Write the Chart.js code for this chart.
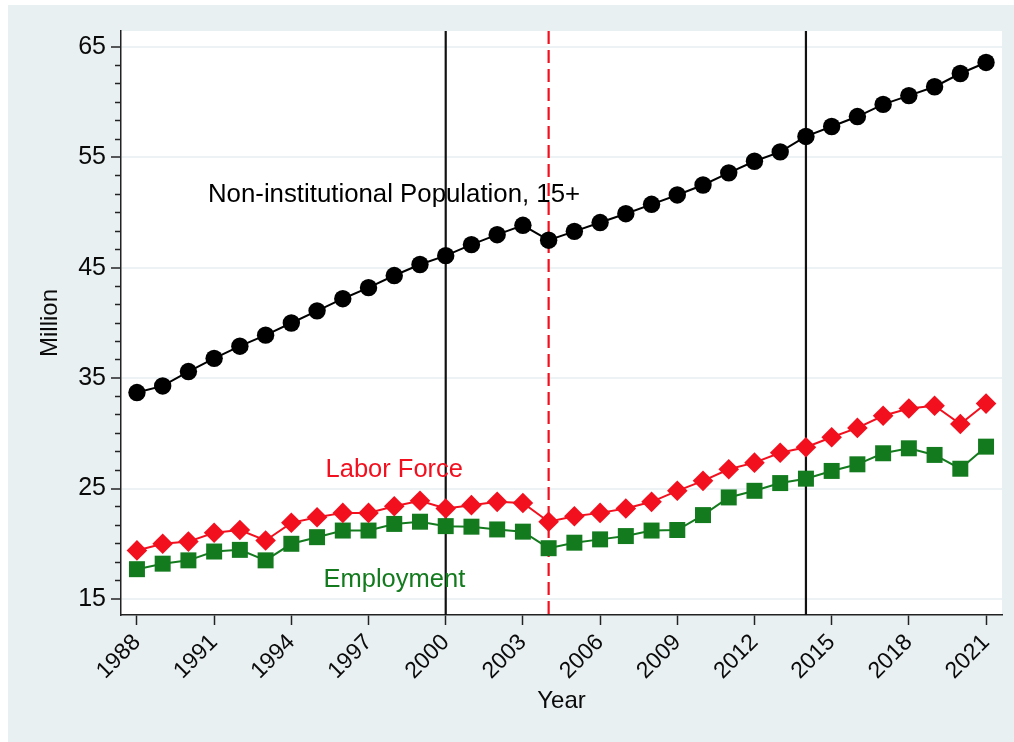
<!DOCTYPE html>
<html>
<head>
<meta charset="utf-8">
<title>Population, labor force and employment</title>
<script src="https://cdn.jsdelivr.net/npm/chart.js@4.4.1/dist/chart.umd.min.js"></script>
<style>
  html, body { margin: 0; padding: 0; background: #ffffff; }
  #wrap { width: 1014px; height: 742px; }
</style>
</head>
<body>
<div id="wrap"><canvas id="grafico" width="1014" height="742"></canvas></div>
<script>
// --- datos (millones) ---
const years = [1988, 1989, 1990, 1991, 1992, 1993, 1994, 1995, 1996, 1997, 1998, 1999, 2000, 2001, 2002, 2003, 2004,
               2005, 2006, 2007, 2008, 2009, 2010, 2011, 2012, 2013, 2014, 2015, 2016, 2017, 2018, 2019, 2020, 2021];
const population = [33.7, 34.3, 35.6, 36.8, 37.9, 38.9, 40.0, 41.1, 42.2, 43.2, 44.3, 45.3, 46.1, 47.1, 48.0, 48.85, 47.5,
                    48.3, 49.1, 49.9, 50.75, 51.6, 52.5, 53.6, 54.65, 55.5, 56.9, 57.8, 58.7, 59.8, 60.6, 61.4, 62.6, 63.6];
const laborForce = [19.4, 20.0, 20.2, 21.0, 21.25, 20.3, 21.9, 22.4, 22.8, 22.8, 23.4, 23.9, 23.2, 23.5, 23.8, 23.7, 22.0,
                    22.5, 22.8, 23.2, 23.8, 24.8, 25.7, 26.75, 27.35, 28.25, 28.75, 29.65, 30.5, 31.6, 32.25, 32.5, 30.85, 32.7];
const employment = [17.7, 18.2, 18.5, 19.3, 19.45, 18.5, 20.0, 20.6, 21.2, 21.2, 21.8, 22.0, 21.6, 21.55, 21.3, 21.1, 19.6,
                    20.1, 20.4, 20.7, 21.2, 21.25, 22.6, 24.2, 24.8, 25.5, 25.9, 26.6, 27.2, 28.2, 28.65, 28.05, 26.8, 28.8];

const yTicks = [15, 25, 35, 45, 55, 65];
const xTicks = [1988, 1991, 1994, 1997, 2000, 2003, 2006, 2009, 2012, 2015, 2018, 2021];
const solidLineYears = [2000, 2014];
const dashedLineYears = [2004];

const FONT = '"Liberation Sans", Arial, Helvetica, sans-serif';
const RED = '#f2101f';
const GREEN = '#137b1e';

// etiquetas dentro del gráfico (en coordenadas de datos)
const notas = [
    { text: 'Non-institutional Population, 15+', x: 1990.76, y: 51.0, color: '#000000', size: 25.8 },
    { text: 'Labor Force', x: 1995.33, y: 26.05, color: RED, size: 25.5 },
    { text: 'Employment', x: 1995.25, y: 16.1, color: GREEN, size: 25.5 }
];

// marcas menores del eje Y: 5 entre cada par de marcas principales
const minorTicks = [];
for (let i = 0; i < yTicks.length - 1; i++) {
    for (let k = 1; k < 6; k++) minorTicks.push(yTicks[i] + k * (yTicks[i + 1] - yTicks[i]) / 6);
}

const toPoints = (serie) => years.map((yr, i) => ({ x: yr, y: serie[i] }));

const fondo = {
    id: 'fondo',
    beforeDraw(chart) {
        const { ctx, chartArea: a } = chart;
        ctx.save();
        ctx.fillStyle = '#ffffff';
        ctx.fillRect(0, 0, chart.width, chart.height);
        ctx.fillStyle = '#e9f0f2';
        ctx.fillRect(8, 5, chart.width - 8, chart.height - 5);
        ctx.fillStyle = '#ffffff';
        ctx.fillRect(a.left, a.top, a.right - a.left, a.bottom - a.top);
        ctx.restore();
    }
};

const lineasVerticales = {
    id: 'lineasVerticales',
    beforeDatasetsDraw(chart) {
        const { ctx, chartArea: a, scales } = chart;
        ctx.save();
        ctx.lineWidth = 2.2;
        ctx.strokeStyle = '#111111';
        solidLineYears.forEach(yr => {
            const px = scales.x.getPixelForValue(yr);
            ctx.beginPath(); ctx.moveTo(px, a.top); ctx.lineTo(px, a.bottom); ctx.stroke();
        });
        ctx.strokeStyle = RED;
        ctx.setLineDash([13, 6]);
        dashedLineYears.forEach(yr => {
            const px = scales.x.getPixelForValue(yr);
            ctx.beginPath(); ctx.moveTo(px, a.top); ctx.lineTo(px, a.bottom); ctx.stroke();
        });
        ctx.restore();
    }
};

const etiquetas = {
    id: 'etiquetas',
    afterDatasetsDraw(chart) {
        const { ctx, scales } = chart;
        ctx.save();
        ctx.textAlign = 'left';
        ctx.textBaseline = 'alphabetic';
        notas.forEach(n => {
            ctx.font = `${n.size}px ${FONT}`;
            ctx.fillStyle = n.color;
            ctx.fillText(n.text, scales.x.getPixelForValue(n.x), scales.y.getPixelForValue(n.y));
        });
        ctx.restore();
    }
};

new Chart(document.getElementById('grafico'), {
    type: 'line',
    data: {
        datasets: [
            {
                label: 'Non-institutional Population, 15+',
                data: toPoints(population),
                borderColor: '#000000',
                backgroundColor: '#000000',
                borderWidth: 2,
                pointStyle: 'circle',
                pointRadius: 8.7,
                pointBorderWidth: 0
            },
            {
                label: 'Labor Force',
                data: toPoints(laborForce),
                borderColor: RED,
                backgroundColor: RED,
                borderWidth: 2,
                pointStyle: 'rectRot',
                pointRadius: 10.3,
                pointBorderWidth: 0
            },
            {
                label: 'Employment',
                data: toPoints(employment),
                borderColor: GREEN,
                backgroundColor: GREEN,
                borderWidth: 2,
                pointStyle: 'rect',
                pointRadius: 11.3,
                pointBorderWidth: 0
            }
        ]
    },
    options: {
        responsive: false,
        animation: false,
        layout: { padding: { top: 31, right: 12, left: 0, bottom: 0 } },
        plugins: {
            legend: { display: false },
            tooltip: { enabled: false }
        },
        scales: {
            x: {
                type: 'linear',
                min: 1987.38,
                max: 2021.62,
                afterBuildTicks: (s) => { s.ticks = xTicks.map(v => ({ value: v })); },
                afterFit: (s) => { s.height = 127; },
                grid: { drawOnChartArea: false, tickLength: 10, tickColor: '#222222', tickWidth: 1.5 },
                border: { color: '#222222', width: 1.5 },
                ticks: {
                    color: '#0a0a0a',
                    font: { size: 23, family: FONT },
                    minRotation: 45,
                    maxRotation: 45,
                    autoSkip: false,
                    padding: 4,
                    callback: (v) => String(v)
                },
                title: {
                    display: true,
                    text: 'Year',
                    color: '#0a0a0a',
                    font: { size: 24, family: FONT },
                    padding: { top: 0, bottom: 26 }
                }
            },
            y: {
                position: 'left',
                weight: 1,
                min: 13.55,
                max: 66.45,
                afterBuildTicks: (s) => { s.ticks = yTicks.map(v => ({ value: v })); },
                afterFit: (s) => { s.width = 121; },
                grid: { color: '#edf2f4', lineWidth: 2, tickColor: '#222222', tickLength: 10, tickWidth: 1.5 },
                border: { color: '#222222', width: 1.5 },
                ticks: {
                    color: '#0a0a0a',
                    font: { size: 25, family: FONT },
                    padding: 5,
                    callback: (v) => String(v)
                },
                title: {
                    display: true,
                    text: 'Million',
                    color: '#0a0a0a',
                    font: { size: 24, family: FONT },
                    padding: { top: 36, bottom: 0 }
                }
            },
            yMinor: {
                position: 'left',
                weight: 0,
                min: 13.55,
                max: 66.45,
                afterBuildTicks: (s) => { s.ticks = minorTicks.map(v => ({ value: v })); },
                afterFit: (s) => { s.width = 0; },
                grid: { drawOnChartArea: false, tickLength: 6, tickColor: '#222222', tickWidth: 1.5 },
                border: { display: false },
                ticks: { display: false }
            }
        }
    },
    plugins: [fondo, lineasVerticales, etiquetas]
});
</script>
</body>
</html>
